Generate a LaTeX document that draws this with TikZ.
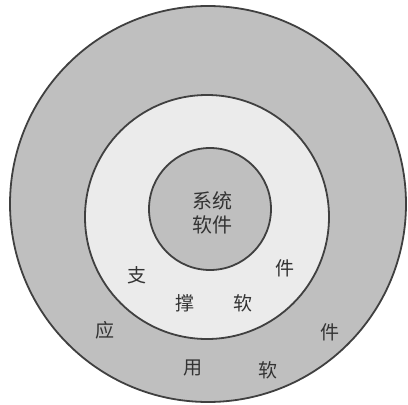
\documentclass[tikz,border=0pt]{standalone}
\usepackage{fontspec}
\newfontfamily\cjk{Noto Sans CJK SC}
\begin{document}
\begin{tikzpicture}[x=1pt,y=-1pt,
  ring/.style={draw=black!75,line width=1.8pt},
  lab/.style={font=\cjk\fontsize{19}{22}\selectfont,text=black!80,inner sep=0pt}]
\useasboundingbox (0,0) rectangle (408,405);
\fill[white] (0,0) rectangle (408,405);
\node[ring,fill=black!25,circle,minimum size=396pt,inner sep=0pt] (outer) at (208,204) {};
\node[ring,fill=black!8,circle,minimum size=244pt,inner sep=0pt] (middle) at (207,217) {};
\node[ring,fill=black!25,circle,minimum size=122pt,inner sep=0pt] (inner) at (210,209) {};
\node[lab,align=center,font=\cjk\fontsize{20}{24}\selectfont] (sys) at (212,213) {系统\\软件};
\node[lab] (s1) at (137,275) {支};
\node[lab] (s2) at (185,303) {撑};
\node[lab] (s3) at (243,303) {软};
\node[lab] (s4) at (285,268) {件};
\node[lab] (a1) at (105,330) {应};
\node[lab] (a2) at (193,368) {用};
\node[lab] (a3) at (268,370) {软};
\node[lab] (a4) at (330,332) {件};
\end{tikzpicture}
\end{document}
